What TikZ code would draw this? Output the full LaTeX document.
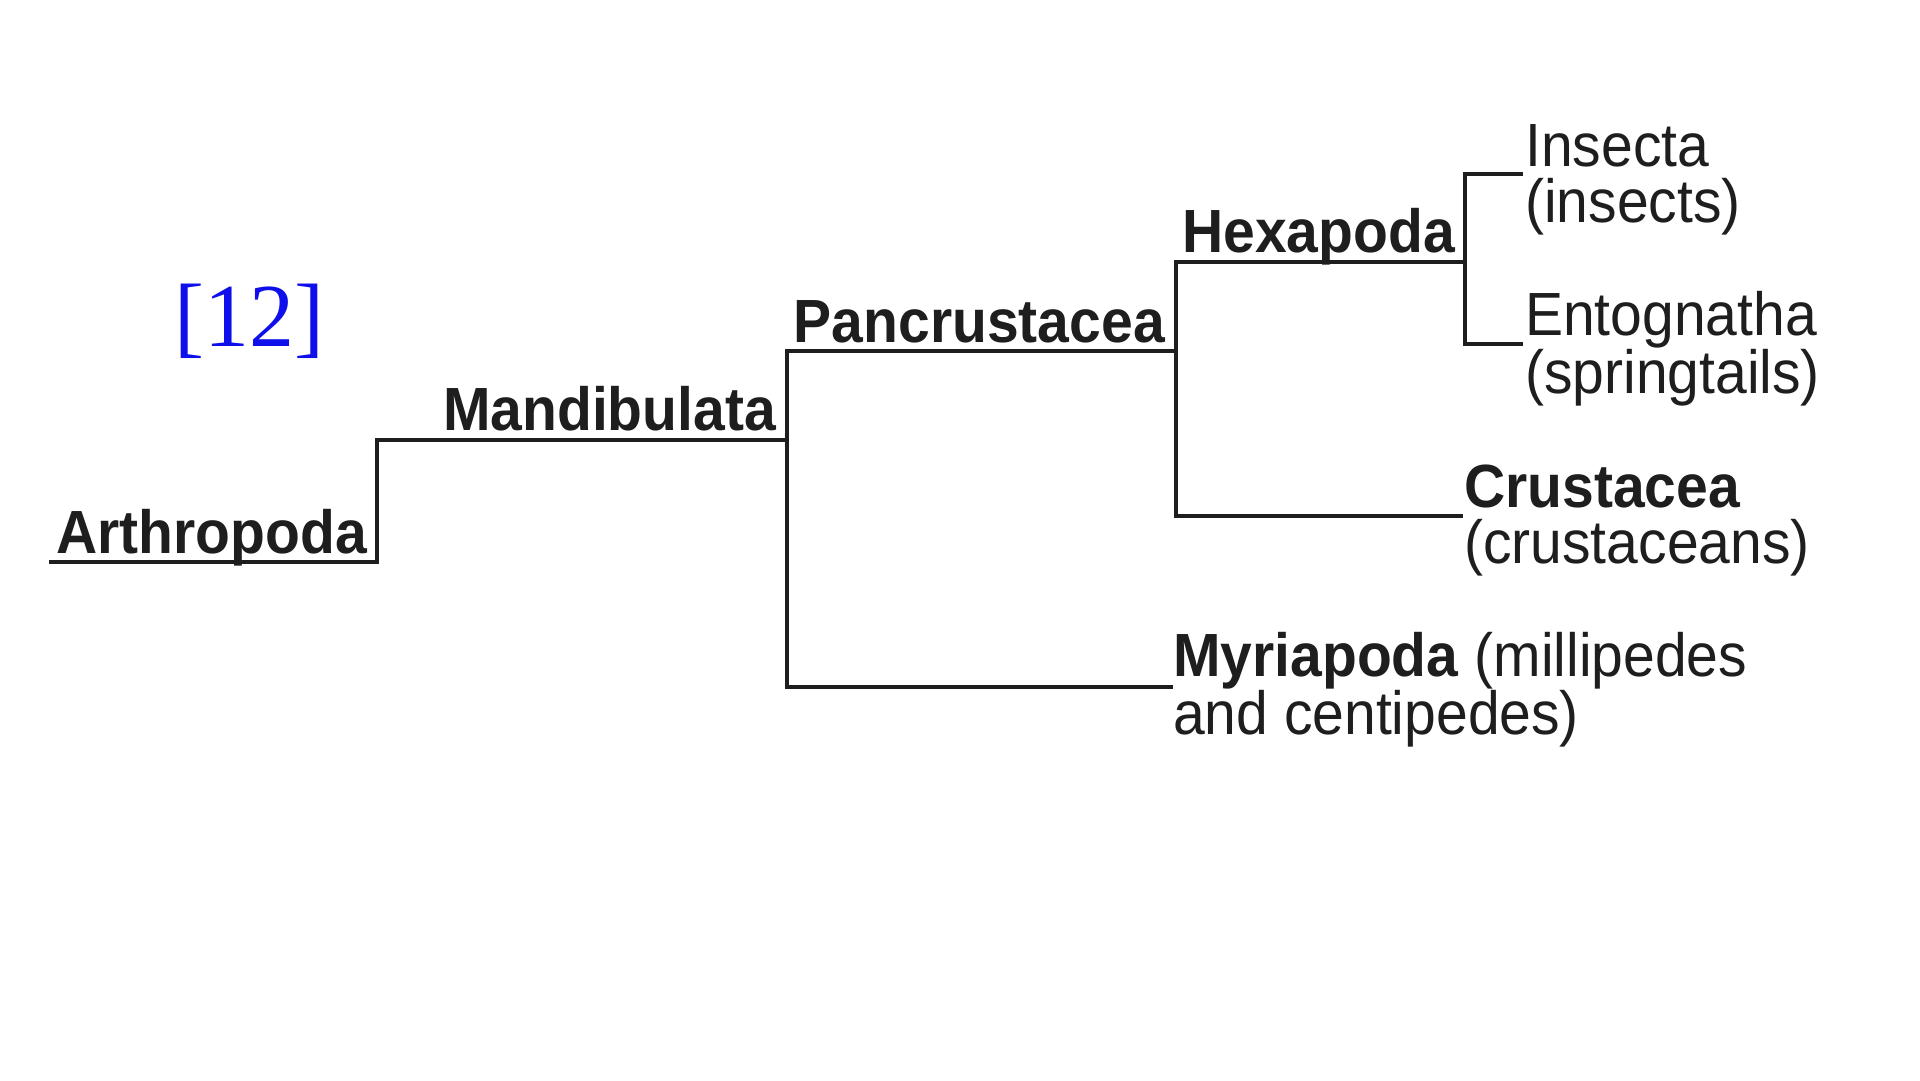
\documentclass[tikz,border=0pt]{standalone}
\usepackage{fontspec}
\setmainfont{Liberation Sans}[FakeStretch=0.935]
\newfontfamily\refserif{Liberation Serif}
\definecolor{ink}{RGB}{30,30,30}
\definecolor{refblue}{RGB}{15,15,235}
\begin{document}
\begin{tikzpicture}[x=1pt,y=-1pt,
  lbl/.style={inner sep=0pt, text=ink, font=\fontsize{61}{56}\selectfont},
  clade/.style={lbl, font=\fontsize{61}{56}\selectfont\bfseries},
  branch/.style={draw=ink, line width=3.6pt, line join=miter}]
\fill[white] (0,0) rectangle (1920,1080);
\useasboundingbox (0,0) rectangle (1920,1080);

\coordinate (root) at (49,562);
\coordinate (nA) at (377,562);
\coordinate (nM) at (787,440);
\coordinate (nP) at (1176,351);
\coordinate (tMy) at (1173,687);
\coordinate (nH) at (1465,262);
\coordinate (tCr) at (1463,516);
\coordinate (tIn) at (1523,174);
\coordinate (tEn) at (1523,344);

\draw[branch] (root) -- (nA) |- (nM);
\draw[branch] (nP) -- (nM |- nP) |- (tMy);
\draw[branch] (nH) -- (nP |- nH) |- (tCr);
\draw[branch] (tIn) -- (nH |- tIn) |- (tEn);

\node[clade, anchor=base east] (arth) at (367,553) {Arthropoda};
\node[clade, anchor=base east] (mand) at (776,430) {Mandibulata};
\node[clade, anchor=base east] (panc) at (1165,342) {Pancrustacea};
\node[clade, anchor=base east] (hexa) at (1455,252) {Hexapoda};
\node[lbl, anchor=base west, align=left] (inse) at (1525,222) {Insecta\\(insects)};
\node[lbl, anchor=base west, align=left] (ento) at (1525,393) {Entognatha\\(springtails)};
\node[lbl, anchor=base west, align=left] (crus) at (1464,563) {\textbf{Crustacea}\\(crustaceans)};
\node[lbl, anchor=base west, align=left] (myri) at (1173,734) {\textbf{Myriapoda} (millipedes\\and centipedes)};
\node[text=refblue, font=\refserif\fontsize{90}{90}\selectfont, anchor=base, inner sep=0pt] (ref) at (249,346) {[12]};
\end{tikzpicture}
\end{document}
